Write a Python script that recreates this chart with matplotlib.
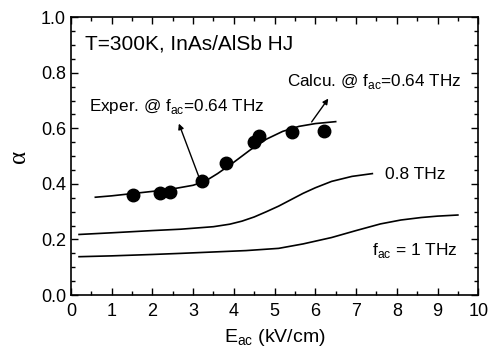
import matplotlib.pyplot as plt
from matplotlib.ticker import MultipleLocator

plt.rcParams['font.family'] = ['Liberation Sans', 'DejaVu Sans']

# measured points, f_ac = 0.64 THz
exp_E = [1.52, 2.19, 2.43, 3.21, 3.81, 4.50, 4.62, 5.42, 6.22]
exp_a = [0.360, 0.366, 0.372, 0.410, 0.474, 0.551, 0.572, 0.585, 0.591]

# calculated curve, f_ac = 0.64 THz
calc064_E = [0.6, 1.0, 1.5, 2.0, 2.5, 3.0, 3.3, 3.6, 4.0, 4.4, 4.8, 5.2, 5.6, 6.0, 6.5]
calc064_a = [0.352, 0.357, 0.365, 0.373, 0.382, 0.395, 0.410, 0.437, 0.478, 0.522, 0.561, 0.589, 0.607, 0.617, 0.624]

# calculated curve, 0.8 THz
calc08_E = [0.2, 1.0, 2.0, 2.7, 3.5, 3.9, 4.2, 4.5, 4.8, 5.1, 5.4, 5.7, 6.0, 6.4, 6.9, 7.4]
calc08_a = [0.218, 0.224, 0.232, 0.237, 0.246, 0.255, 0.266, 0.281, 0.300, 0.320, 0.343, 0.366, 0.386, 0.409, 0.427, 0.437]

# calculated curve, 1 THz
calc1_E = [0.2, 1.0, 2.0, 2.7, 3.5, 4.3, 5.1, 5.7, 6.4, 7.0, 7.6, 8.1, 8.6, 9.0, 9.5]
calc1_a = [0.138, 0.141, 0.146, 0.150, 0.155, 0.160, 0.168, 0.184, 0.207, 0.232, 0.256, 0.270, 0.279, 0.284, 0.288]

fig = plt.figure(figsize=(4.89, 3.5), dpi=100)
ax = fig.add_axes([0.145, 0.157, 0.833, 0.794])

ax.plot(calc064_E, calc064_a, color='black', lw=1.2)
ax.plot(calc08_E, calc08_a, color='black', lw=1.2)
ax.plot(calc1_E, calc1_a, color='black', lw=1.2)
ax.plot(exp_E, exp_a, 'o', color='black', ms=9)

ax.set_xlim(0, 10)
ax.set_ylim(0, 1.0)
ax.xaxis.set_major_locator(MultipleLocator(1))
ax.xaxis.set_minor_locator(MultipleLocator(0.5))
ax.yaxis.set_major_locator(MultipleLocator(0.2))
ax.yaxis.set_minor_locator(MultipleLocator(0.05))
ax.yaxis.set_major_formatter(plt.FormatStrFormatter('%.1f'))
ax.tick_params(which='both', direction='in', top=True, right=True, labelsize=13)
ax.tick_params(which='major', length=5, width=1)
ax.tick_params(which='minor', length=3, width=1)
ax.tick_params(axis='x', pad=6)
for s in ax.spines.values():
    s.set_linewidth(1.2)

ax.set_xlabel(r'E$_{\mathregular{ac}}$ (kV/cm)', fontsize=14, labelpad=5)
ax.set_ylabel('α', fontsize=18, family='Liberation Serif', labelpad=8)

ax.text(0.34, 0.905, 'T=300K, InAs/AlSb HJ', fontsize=15, va='center')
ax.text(7.7, 0.435, '0.8 THz', fontsize=12.5, va='center')
ax.text(7.38, 0.16, r'f$_{\mathregular{ac}}$ = 1 THz', fontsize=12.5, va='center')

ax.annotate('', xy=(2.65, 0.617), xytext=(3.13, 0.43),
            arrowprops=dict(arrowstyle='-|>', color='black', lw=1, mutation_scale=8,
                            shrinkA=0, shrinkB=0))
ax.text(0.45, 0.68, r'Exper. @ f$_{\mathregular{ac}}$=0.64 THz', fontsize=12.3, va='center')

ax.annotate('', xy=(6.32, 0.707), xytext=(5.91, 0.623),
            arrowprops=dict(arrowstyle='-|>', color='black', lw=1, mutation_scale=8,
                            shrinkA=0, shrinkB=0))
ax.text(5.3, 0.767, r'Calcu. @ f$_{\mathregular{ac}}$=0.64 THz', fontsize=12.3, va='center')

fig.savefig('out.png', dpi=100)
